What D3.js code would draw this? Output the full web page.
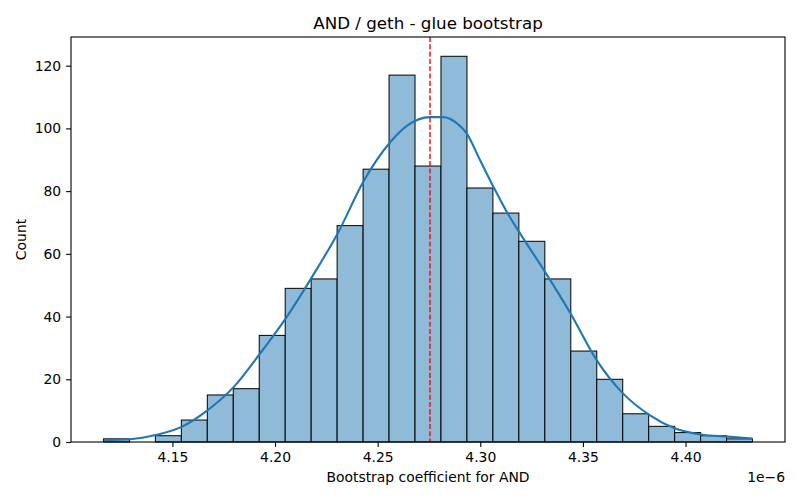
<!DOCTYPE html>
<html>
<head>
<meta charset="utf-8">
<script src="https://cdn.jsdelivr.net/npm/d3@7"></script>
<style>
  body { margin: 0; background: #fff; }
  svg { font-family: "DejaVu Sans", sans-serif; }
</style>
</head>
<body>
<svg id="chart" width="800" height="500"></svg>
<script>
// Histogram of bootstrap coefficients (values in units of 1e-6)
const binStart = 4.1164;
const binWidth = 0.01265;
const counts = [1, 0, 2, 7, 15, 17, 34, 49, 52, 69, 87, 117, 88, 123, 81, 73, 64, 52, 29, 20, 9, 5, 3, 2, 1];

// KDE curve (x, scaled count)
const kdeX = [4.1166, 4.1296, 4.1417, 4.1547, 4.1669, 4.1798, 4.1928, 4.2058, 4.2179, 4.2309,
              4.2430, 4.2560, 4.2642, 4.2755, 4.2820, 4.2885, 4.2933, 4.2998, 4.3063, 4.3128,
              4.3193, 4.3314, 4.3444, 4.3566, 4.3695, 4.3825, 4.3947, 4.4076, 4.4206, 4.4327];
const kdeY = [0.6, 0.9, 2.2, 4.9, 10.0, 17.5, 28.3, 40.0, 52.5, 67.0,
              83.0, 95.5, 100.8, 103.6, 103.6, 101.7, 98.5, 90.0, 81.5, 73.5,
              66.6, 54.4, 40.5, 26.2, 15.5, 8.6, 4.4, 2.4, 1.7, 1.1];

const meanValue = 4.2755;
const xTicks = [4.15, 4.20, 4.25, 4.30, 4.35, 4.40];
const yTicks = [0, 20, 40, 60, 80, 100, 120];

const margin = { top: 37, right: 15, bottom: 58, left: 71 };
const width = 800, height = 500;
const innerW = width - margin.left - margin.right;
const innerH = height - margin.top - margin.bottom;

const svg = d3.select('#chart');
const g = svg.append('g').attr('transform', `translate(${margin.left},${margin.top})`);

// matplotlib style 5% margins
const dataMin = binStart, dataMax = binStart + counts.length * binWidth;
const pad = (dataMax - dataMin) * 0.05;
const x = d3.scaleLinear().domain([dataMin - pad, dataMax + pad]).range([0, innerW]);
const y = d3.scaleLinear().domain([0, d3.max(counts) * 1.05]).range([innerH, 0]);

const bins = counts.map((c, i) => ({ x0: binStart + i * binWidth, x1: binStart + (i + 1) * binWidth, count: c }));

// Bars
g.selectAll('.bar')
  .data(bins.filter(d => d.count > 0))
  .enter()
  .append('rect')
  .attr('class', 'bar')
  .attr('x', d => x(d.x0))
  .attr('y', d => y(d.count))
  .attr('width', d => x(d.x1) - x(d.x0))
  .attr('height', d => y(0) - y(d.count))
  .attr('fill', '#8fbbd9')
  .attr('stroke', '#000')
  .attr('stroke-width', 1);

// KDE line
const line = d3.line()
  .x((d, i) => x(kdeX[i]))
  .y(d => y(d))
  .curve(d3.curveMonotoneX);

g.append('path')
  .datum(kdeY)
  .attr('d', line)
  .attr('fill', 'none')
  .attr('stroke', '#1f77b4')
  .attr('stroke-width', 2.1);

// Mean line
g.append('line')
  .attr('x1', x(meanValue)).attr('x2', x(meanValue))
  .attr('y1', 0).attr('y2', innerH)
  .attr('stroke', 'red')
  .attr('stroke-width', 1.4)
  .attr('stroke-dasharray', '5.1,2.2');

// Axes
const xAxis = g.append('g')
  .attr('transform', `translate(0,${innerH})`)
  .call(d3.axisBottom(x).tickValues(xTicks).tickFormat(d3.format('.2f')).tickSizeOuter(0).tickSize(4.9).tickPadding(4.9));

const yAxis = g.append('g')
  .call(d3.axisLeft(y).tickValues(yTicks).tickFormat(d3.format('d')).tickSizeOuter(0).tickSize(4.9).tickPadding(4.9));

[xAxis, yAxis].forEach(a => {
  a.select('.domain').remove();
  a.selectAll('.tick line').attr('stroke', '#000').attr('stroke-width', 1.1);
  a.selectAll('.tick text').attr('fill', '#000').style('font-size', '13.9px').style('font-family', '"DejaVu Sans", sans-serif');
});

// Frame
g.append('rect')
  .attr('x', 0).attr('y', 0)
  .attr('width', innerW).attr('height', innerH)
  .attr('fill', 'none')
  .attr('stroke', '#000')
  .attr('stroke-width', 1.1);

// Title and labels
svg.append('text')
  .attr('x', margin.left + innerW / 2)
  .attr('y', 29)
  .attr('text-anchor', 'middle')
  .style('font-size', '16.7px')
  .text('AND / geth - glue bootstrap');

svg.append('text')
  .attr('x', margin.left + innerW / 2)
  .attr('y', 482)
  .attr('text-anchor', 'middle')
  .style('font-size', '13.9px')
  .text('Bootstrap coefficient for AND');

svg.append('text')
  .attr('x', margin.left + innerW)
  .attr('y', 482)
  .attr('text-anchor', 'end')
  .style('font-size', '13.9px')
  .text('1e\u22126');

svg.append('text')
  .attr('transform', `translate(26,${margin.top + innerH / 2}) rotate(-90)`)
  .attr('text-anchor', 'middle')
  .style('font-size', '13.9px')
  .text('Count');
</script>
</body>
</html>
